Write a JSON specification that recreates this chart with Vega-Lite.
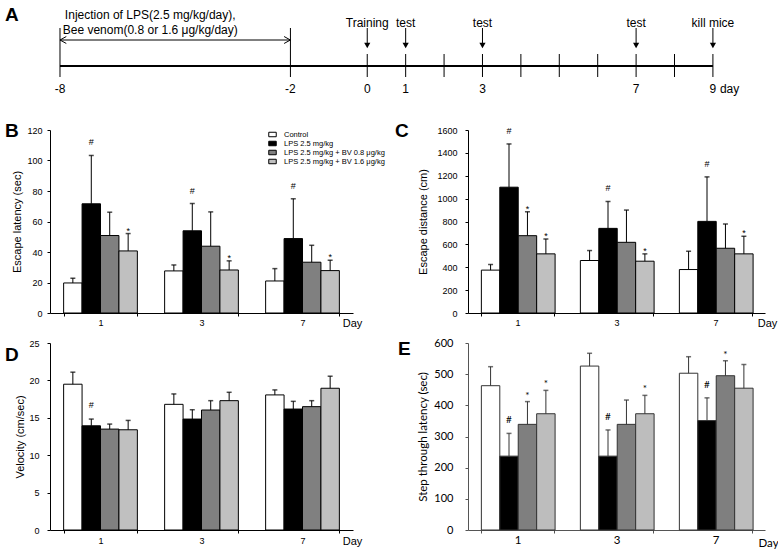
{
  "$schema": "https://vega.github.io/schema/vega-lite/v6.json",
  "autosize": {"type": "none"},
  "padding": {"left": 50, "top": 0, "right": 728, "bottom": 552},
  "background": "white",
  "config": {
    "view": {"stroke": null},
    "font": "Liberation Sans",
    "axis": {"domainColor": "black", "tickColor": "black", "labelColor": "black", "titleColor": "black", "grid": false, "labelFont": "Liberation Sans", "titleFont": "Liberation Sans", "titleFontWeight": "normal", "labelFontSize": 9, "titleFontSize": 11, "tickSize": 3, "domainWidth": 1, "tickWidth": 1, "labelOverlap": false},
    "text": {"color": "black"}
  },
  "datasets": {
    "tl_line": [{"day": -8, "day2": 9}],
    "tl_inject": [{"day": -8, "day2": -2}],
    "tl_ticks": [
      {"day": -8, "kind": "long"}, {"day": -2, "kind": "long"},
      {"day": 0, "kind": "short"}, {"day": 1, "kind": "short"}, {"day": 2, "kind": "short"}, {"day": 3, "kind": "short"}, {"day": 4, "kind": "short"},
      {"day": 5, "kind": "short"}, {"day": 6, "kind": "short"}, {"day": 7, "kind": "short"}, {"day": 8, "kind": "short"}, {"day": 9, "kind": "short"}
    ],
    "tl_labels": [
      {"day": -8, "label": "-8"}, {"day": -2, "label": "-2"}, {"day": 0, "label": "0"}, {"day": 1, "label": "1"},
      {"day": 3, "label": "3"}, {"day": 7, "label": "7"}, {"day": 9, "label": "9"}
    ],
    "tl_events": [
      {"day": 0, "event": "Training"}, {"day": 1, "event": "test"}, {"day": 3, "event": "test"}, {"day": 7, "event": "test"}, {"day": 9, "event": "kill mice"}
    ],
    "tl_text": [
      {"line": 1, "note": "Injection of LPS(2.5 mg/kg/day),"},
      {"line": 2, "note": "Bee venom(0.8  or 1.6 μg/kg/day)"}
    ],
    "latency": [
      {"day": "1", "group": "Control", "mean": 19.7, "upper": 22.8, "sig": ""},
      {"day": "1", "group": "LPS 2.5 mg/kg", "mean": 71.6, "upper": 103.3, "sig": "#"},
      {"day": "1", "group": "LPS 2.5 mg/kg + BV 0.8 μg/kg", "mean": 50.8, "upper": 66.1, "sig": ""},
      {"day": "1", "group": "LPS 2.5 mg/kg + BV 1.6 μg/kg", "mean": 40.7, "upper": 52.1, "sig": "*"},
      {"day": "3", "group": "Control", "mean": 27.6, "upper": 31.5, "sig": ""},
      {"day": "3", "group": "LPS 2.5 mg/kg", "mean": 53.9, "upper": 71.8, "sig": "#"},
      {"day": "3", "group": "LPS 2.5 mg/kg + BV 0.8 μg/kg", "mean": 43.8, "upper": 66.3, "sig": ""},
      {"day": "3", "group": "LPS 2.5 mg/kg + BV 1.6 μg/kg", "mean": 28.2, "upper": 34.2, "sig": "*"},
      {"day": "7", "group": "Control", "mean": 21.0, "upper": 29.1, "sig": ""},
      {"day": "7", "group": "LPS 2.5 mg/kg", "mean": 48.8, "upper": 74.9, "sig": "#"},
      {"day": "7", "group": "LPS 2.5 mg/kg + BV 0.8 μg/kg", "mean": 33.3, "upper": 44.4, "sig": ""},
      {"day": "7", "group": "LPS 2.5 mg/kg + BV 1.6 μg/kg", "mean": 27.8, "upper": 34.6, "sig": "*"}
    ],
    "distance": [
      {"day": "1", "group": "Control", "mean": 375, "upper": 424, "sig": ""},
      {"day": "1", "group": "LPS 2.5 mg/kg", "mean": 1100, "upper": 1478, "sig": "#"},
      {"day": "1", "group": "LPS 2.5 mg/kg + BV 0.8 μg/kg", "mean": 676, "upper": 885, "sig": "*"},
      {"day": "1", "group": "LPS 2.5 mg/kg + BV 1.6 μg/kg", "mean": 517, "upper": 647, "sig": "*"},
      {"day": "3", "group": "Control", "mean": 459, "upper": 546, "sig": ""},
      {"day": "3", "group": "LPS 2.5 mg/kg", "mean": 740, "upper": 975, "sig": "#"},
      {"day": "3", "group": "LPS 2.5 mg/kg + BV 0.8 μg/kg", "mean": 618, "upper": 900, "sig": ""},
      {"day": "3", "group": "LPS 2.5 mg/kg + BV 1.6 μg/kg", "mean": 453, "upper": 517, "sig": "*"},
      {"day": "7", "group": "Control", "mean": 380, "upper": 540, "sig": ""},
      {"day": "7", "group": "LPS 2.5 mg/kg", "mean": 801, "upper": 1190, "sig": "#"},
      {"day": "7", "group": "LPS 2.5 mg/kg + BV 0.8 μg/kg", "mean": 566, "upper": 778, "sig": ""},
      {"day": "7", "group": "LPS 2.5 mg/kg + BV 1.6 μg/kg", "mean": 517, "upper": 671, "sig": "*"}
    ],
    "velocity": [
      {"day": "1", "group": "Control", "mean": 19.49, "upper": 21.1, "sig": ""},
      {"day": "1", "group": "LPS 2.5 mg/kg", "mean": 13.93, "upper": 14.83, "sig": "#"},
      {"day": "1", "group": "LPS 2.5 mg/kg + BV 0.8 μg/kg", "mean": 13.49, "upper": 14.16, "sig": ""},
      {"day": "1", "group": "LPS 2.5 mg/kg + BV 1.6 μg/kg", "mean": 13.4, "upper": 14.65, "sig": ""},
      {"day": "3", "group": "Control", "mean": 16.8, "upper": 18.19, "sig": ""},
      {"day": "3", "group": "LPS 2.5 mg/kg", "mean": 14.83, "upper": 16.08, "sig": ""},
      {"day": "3", "group": "LPS 2.5 mg/kg + BV 0.8 μg/kg", "mean": 16.04, "upper": 17.29, "sig": ""},
      {"day": "3", "group": "LPS 2.5 mg/kg + BV 1.6 μg/kg", "mean": 17.29, "upper": 18.41, "sig": ""},
      {"day": "7", "group": "Control", "mean": 18.06, "upper": 18.73, "sig": ""},
      {"day": "7", "group": "LPS 2.5 mg/kg", "mean": 16.17, "upper": 17.2, "sig": ""},
      {"day": "7", "group": "LPS 2.5 mg/kg + BV 0.8 μg/kg", "mean": 16.49, "upper": 17.29, "sig": ""},
      {"day": "7", "group": "LPS 2.5 mg/kg + BV 1.6 μg/kg", "mean": 18.95, "upper": 20.56, "sig": ""}
    ],
    "steplatency": [
      {"day": "1", "group": "Control", "mean": 463, "upper": 524, "sig": ""},
      {"day": "1", "group": "LPS 2.5 mg/kg", "mean": 237, "upper": 310, "sig": "#"},
      {"day": "1", "group": "LPS 2.5 mg/kg + BV 0.8 μg/kg", "mean": 339, "upper": 412, "sig": "*"},
      {"day": "1", "group": "LPS 2.5 mg/kg + BV 1.6 μg/kg", "mean": 373, "upper": 448, "sig": "*"},
      {"day": "3", "group": "Control", "mean": 526, "upper": 567, "sig": ""},
      {"day": "3", "group": "LPS 2.5 mg/kg", "mean": 237, "upper": 321, "sig": "#"},
      {"day": "3", "group": "LPS 2.5 mg/kg + BV 0.8 μg/kg", "mean": 339, "upper": 417, "sig": ""},
      {"day": "3", "group": "LPS 2.5 mg/kg + BV 1.6 μg/kg", "mean": 373, "upper": 432, "sig": "*"},
      {"day": "7", "group": "Control", "mean": 503, "upper": 556, "sig": ""},
      {"day": "7", "group": "LPS 2.5 mg/kg", "mean": 351, "upper": 424, "sig": "#"},
      {"day": "7", "group": "LPS 2.5 mg/kg + BV 0.8 μg/kg", "mean": 495, "upper": 543, "sig": "*"},
      {"day": "7", "group": "LPS 2.5 mg/kg + BV 1.6 μg/kg", "mean": 455, "upper": 531, "sig": ""}
    ],
    "empty": []
  },
  "bounds": "flush",
  "align": "none",
  "columns": 2,
  "spacing": {"row": 30, "column": 115},
  "resolve": {"scale": {"fill": "independent"}, "legend": {"fill": "independent"}},
  "concat": [
    {
      "width": 303,
      "height": 100,
      "title": {"text": "A", "anchor": "start", "frame": "group", "orient": "top", "offset": 0, "dx": -45, "dy": 40, "baseline": "alphabetic", "fontSize": 19, "fontWeight": "bold", "font": "Liberation Sans", "color": "black"},
      "layer": [
        {"data": {"name": "tl_line"}, "mark": {"type": "rule", "strokeWidth": 2, "color": "black"},
         "encoding": {"x": {"field": "day", "type": "quantitative", "scale": {"domain": [-8.26, -0.371], "nice": false, "zero": false}, "axis": null}, "x2": {"field": "day2"}, "y": {"datum": 34, "type": "quantitative", "scale": {"domain": [0, 100], "nice": false, "zero": false}, "axis": null}}},
        {"data": {"name": "tl_ticks"}, "transform": [{"filter": "datum.kind === 'long'"}], "mark": {"type": "rule", "strokeWidth": 1, "color": "black"},
         "encoding": {"x": {"field": "day", "type": "quantitative", "scale": {"domain": [-8.26, -0.371], "nice": false, "zero": false}, "axis": null}, "y": {"datum": 23, "type": "quantitative", "scale": {"domain": [0, 100], "nice": false, "zero": false}, "axis": null}, "y2": {"datum": 72}}},
        {"data": {"name": "tl_ticks"}, "transform": [{"filter": "datum.kind === 'short'"}], "mark": {"type": "rule", "strokeWidth": 1, "color": "black"},
         "encoding": {"x": {"field": "day", "type": "quantitative", "scale": {"domain": [-8.26, -0.371], "nice": false, "zero": false}, "axis": null}, "y": {"datum": 23, "type": "quantitative", "scale": {"domain": [0, 100], "nice": false, "zero": false}, "axis": null}, "y2": {"datum": 46}}},
        {"data": {"name": "tl_inject"}, "mark": {"type": "rule", "strokeWidth": 1, "color": "black"},
         "encoding": {"x": {"field": "day", "type": "quantitative", "scale": {"domain": [-8.26, -0.371], "nice": false, "zero": false}, "axis": null}, "x2": {"field": "day2"}, "y": {"datum": 60, "type": "quantitative", "scale": {"domain": [0, 100], "nice": false, "zero": false}, "axis": null}}},
        {"data": {"name": "tl_inject"}, "mark": {"type": "point", "shape": "M1,-0.55L0,0L1,0.55", "size": 160, "filled": false, "stroke": "black", "strokeWidth": 1, "opacity": 1},
         "encoding": {"x": {"field": "day", "type": "quantitative", "scale": {"domain": [-8.26, -0.371], "nice": false, "zero": false}, "axis": null}, "y": {"datum": 60, "type": "quantitative", "scale": {"domain": [0, 100], "nice": false, "zero": false}, "axis": null}}},
        {"data": {"name": "tl_inject"}, "mark": {"type": "point", "shape": "M-1,-0.55L0,0L-1,0.55", "size": 160, "filled": false, "stroke": "black", "strokeWidth": 1, "opacity": 1},
         "encoding": {"x": {"field": "day2", "type": "quantitative", "scale": {"domain": [-8.26, -0.371], "nice": false, "zero": false}, "axis": null}, "y": {"datum": 60, "type": "quantitative", "scale": {"domain": [0, 100], "nice": false, "zero": false}, "axis": null}}},
        {"data": {"name": "tl_events"}, "mark": {"type": "rule", "strokeWidth": 1, "color": "black"},
         "encoding": {"x": {"field": "day", "type": "quantitative", "scale": {"domain": [-8.26, -0.371], "nice": false, "zero": false}, "axis": null}, "y": {"datum": 56, "type": "quantitative", "scale": {"domain": [0, 100], "nice": false, "zero": false}, "axis": null}, "y2": {"datum": 72}}},
        {"data": {"name": "tl_events"}, "mark": {"type": "point", "shape": "triangle-down", "size": 38, "filled": true, "color": "black", "opacity": 1},
         "encoding": {"x": {"field": "day", "type": "quantitative", "scale": {"domain": [-8.26, -0.371], "nice": false, "zero": false}, "axis": null}, "y": {"datum": 54.5, "type": "quantitative", "scale": {"domain": [0, 100], "nice": false, "zero": false}, "axis": null}}},
        {"data": {"name": "tl_events"}, "mark": {"type": "text", "font": "Liberation Sans", "fontSize": 12, "baseline": "middle", "color": "black"},
         "encoding": {"x": {"field": "day", "type": "quantitative", "scale": {"domain": [-8.26, -0.371], "nice": false, "zero": false}, "axis": null}, "y": {"datum": 77, "type": "quantitative", "scale": {"domain": [0, 100], "nice": false, "zero": false}, "axis": null}, "text": {"field": "event"}}},
        {"data": {"name": "tl_labels"}, "mark": {"type": "text", "font": "Liberation Sans", "fontSize": 12, "baseline": "middle", "color": "black"},
         "encoding": {"x": {"field": "day", "type": "quantitative", "scale": {"domain": [-8.26, -0.371], "nice": false, "zero": false}, "axis": null}, "y": {"datum": 11, "type": "quantitative", "scale": {"domain": [0, 100], "nice": false, "zero": false}, "axis": null}, "text": {"field": "label"}}},
        {"data": {"name": "tl_labels"}, "transform": [{"filter": "datum.day === 9"}], "mark": {"type": "text", "text": "day", "align": "left", "dx": 7, "font": "Liberation Sans", "fontSize": 12, "baseline": "middle", "color": "black"},
         "encoding": {"x": {"field": "day", "type": "quantitative", "scale": {"domain": [-8.26, -0.371], "nice": false, "zero": false}, "axis": null}, "y": {"datum": 11, "type": "quantitative", "scale": {"domain": [0, 100], "nice": false, "zero": false}, "axis": null}}},
        {"data": {"name": "tl_text"}, "transform": [{"filter": "datum.line === 1"}], "mark": {"type": "text", "font": "Liberation Sans", "fontSize": 12, "baseline": "middle", "color": "black"},
         "encoding": {"x": {"datum": -5.65, "type": "quantitative", "scale": {"domain": [-8.26, -0.371], "nice": false, "zero": false}, "axis": null}, "y": {"datum": 85, "type": "quantitative", "scale": {"domain": [0, 100], "nice": false, "zero": false}, "axis": null}, "text": {"field": "note", "type": "nominal"}}},
        {"data": {"name": "tl_text"}, "transform": [{"filter": "datum.line === 2"}], "mark": {"type": "text", "font": "Liberation Sans", "fontSize": 12, "baseline": "middle", "color": "black"},
         "encoding": {"x": {"datum": -5.65, "type": "quantitative", "scale": {"domain": [-8.26, -0.371], "nice": false, "zero": false}, "axis": null}, "y": {"datum": 70, "type": "quantitative", "scale": {"domain": [0, 100], "nice": false, "zero": false}, "axis": null}, "text": {"field": "note", "type": "nominal"}}}
      ]
    },
    {
      "width": 10, "height": 100,
      "data": {"name": "empty"},
      "mark": {"type": "text"}
    },
    {
      "width": 303, "height": 183,
      "title": {"text": "B", "anchor": "start", "frame": "group", "orient": "top", "offset": 0, "dx": -45, "dy": 29.5, "baseline": "alphabetic", "fontSize": 19, "fontWeight": "bold", "font": "Liberation Sans", "color": "black"},
      "data": {"name": "latency"},
      "encoding": {
        "x": {"field": "day", "type": "nominal", "sort": ["1", "3", "7"], "scale": {"paddingInner": 0.27, "paddingOuter": 0.135},
              "axis": {"title": "Day", "titleX": 302, "titleY": 10, "titleAlign": "center", "titleBaseline": "middle", "labelAngle": 0, "tickBand": "extent", "labelPadding": 2}},
        "xOffset": {"field": "group", "type": "nominal", "sort": ["Control", "LPS 2.5 mg/kg", "LPS 2.5 mg/kg + BV 0.8 μg/kg", "LPS 2.5 mg/kg + BV 1.6 μg/kg"], "scale": {"paddingInner": 0, "paddingOuter": 0}}
      },
      "layer": [
        {"mark": {"type": "bar", "stroke": "black", "strokeWidth": 1},
         "encoding": {
           "y": {"field": "mean", "type": "quantitative", "scale": {"domain": [0, 120], "nice": false},
                 "axis": {"title": "Escape latency (sec)", "values": [0, 20, 40, 60, 80, 100, 120], "tickCount": 30, "titleX": -33, "titleY": 91.5, "titleAlign": "center", "titleBaseline": "middle", "labelPadding": 5}},
           "fill": {"field": "group", "type": "nominal", "scale": {"domain": ["Control", "LPS 2.5 mg/kg", "LPS 2.5 mg/kg + BV 0.8 μg/kg", "LPS 2.5 mg/kg + BV 1.6 μg/kg"], "range": ["#ffffff", "#000000", "#808080", "#c0c0c0"]},
                    "legend": {"orient": "none", "legendX": 218, "legendY": 0, "title": null, "padding": 0, "rowPadding": 0, "labelFontSize": 7.5, "labelFont": "Liberation Sans", "labelColor": "black", "labelOffset": 7, "labelLimit": 300, "symbolType": "M-1,-0.6H1V0.6H-1Z", "symbolSize": 56, "symbolStrokeColor": "black", "symbolStrokeWidth": 1}}
         }},
        {"mark": {"type": "rule", "color": "black", "strokeWidth": 1},
         "encoding": {"y": {"field": "mean", "type": "quantitative"}, "y2": {"field": "upper"}}},
        {"mark": {"type": "tick", "color": "black", "size": 5, "thickness": 1.5},
         "encoding": {"y": {"field": "upper", "type": "quantitative"}}},
        {"transform": [{"filter": "datum.sig === '#'"}], "mark": {"type": "text", "dy": -13, "baseline": "middle", "fontSize": 9, "color": "black"},
         "encoding": {"y": {"field": "upper", "type": "quantitative"}, "text": {"field": "sig"}}},
        {"transform": [{"filter": "datum.sig === '*'"}], "mark": {"type": "text", "dy": -3, "baseline": "middle", "fontSize": 9, "color": "black"},
         "encoding": {"y": {"field": "upper", "type": "quantitative"}, "text": {"field": "sig"}}}
      ]
    },
    {
      "width": 297, "height": 183,
      "title": {"text": "C", "anchor": "start", "frame": "group", "orient": "top", "offset": 0, "dx": -73, "dy": 29.5, "baseline": "alphabetic", "fontSize": 19, "fontWeight": "bold", "font": "Liberation Sans", "color": "black"},
      "data": {"name": "distance"},
      "encoding": {
        "x": {"field": "day", "type": "nominal", "sort": ["1", "3", "7"], "scale": {"paddingInner": 0.27, "paddingOuter": 0.135},
              "axis": {"title": "Day", "titleX": 299, "titleY": 10, "titleAlign": "center", "titleBaseline": "middle", "labelAngle": 0, "tickBand": "extent", "labelPadding": 2}},
        "xOffset": {"field": "group", "type": "nominal", "sort": ["Control", "LPS 2.5 mg/kg", "LPS 2.5 mg/kg + BV 0.8 μg/kg", "LPS 2.5 mg/kg + BV 1.6 μg/kg"], "scale": {"paddingInner": 0, "paddingOuter": 0}}
      },
      "layer": [
        {"mark": {"type": "bar", "stroke": "black", "strokeWidth": 1},
         "encoding": {
           "y": {"field": "mean", "type": "quantitative", "scale": {"domain": [0, 1600], "nice": false},
                 "axis": {"title": "Escape distance (cm)", "format": "d", "values": [0, 200, 400, 600, 800, 1000, 1200, 1400, 1600], "tickCount": 30, "titleX": -45, "titleY": 91.5, "titleAlign": "center", "titleBaseline": "middle", "labelPadding": 8}},
           "fill": {"field": "group", "type": "nominal", "scale": {"domain": ["Control", "LPS 2.5 mg/kg", "LPS 2.5 mg/kg + BV 0.8 μg/kg", "LPS 2.5 mg/kg + BV 1.6 μg/kg"], "range": ["#ffffff", "#000000", "#808080", "#c0c0c0"]}, "legend": null}
         }},
        {"mark": {"type": "rule", "color": "black", "strokeWidth": 1},
         "encoding": {"y": {"field": "mean", "type": "quantitative"}, "y2": {"field": "upper"}}},
        {"mark": {"type": "tick", "color": "black", "size": 5, "thickness": 1.5},
         "encoding": {"y": {"field": "upper", "type": "quantitative"}}},
        {"transform": [{"filter": "datum.sig === '#'"}], "mark": {"type": "text", "dy": -13, "baseline": "middle", "fontSize": 9, "color": "black"},
         "encoding": {"y": {"field": "upper", "type": "quantitative"}, "text": {"field": "sig"}}},
        {"transform": [{"filter": "datum.sig === '*'"}], "mark": {"type": "text", "dy": -3, "baseline": "middle", "fontSize": 9, "color": "black"},
         "encoding": {"y": {"field": "upper", "type": "quantitative"}, "text": {"field": "sig"}}}
      ]
    },
    {
      "width": 303, "height": 187,
      "title": {"text": "D", "anchor": "start", "frame": "group", "orient": "top", "offset": 0, "dx": -45, "dy": 40.5, "baseline": "alphabetic", "fontSize": 19, "fontWeight": "bold", "font": "Liberation Sans", "color": "black"},
      "data": {"name": "velocity"},
      "encoding": {
        "x": {"field": "day", "type": "nominal", "sort": ["1", "3", "7"], "scale": {"paddingInner": 0.27, "paddingOuter": 0.135},
              "axis": {"title": "Day", "titleX": 302, "titleY": 11, "titleAlign": "center", "titleBaseline": "middle", "labelAngle": 0, "tickBand": "extent", "labelPadding": 3}},
        "xOffset": {"field": "group", "type": "nominal", "sort": ["Control", "LPS 2.5 mg/kg", "LPS 2.5 mg/kg + BV 0.8 μg/kg", "LPS 2.5 mg/kg + BV 1.6 μg/kg"], "scale": {"paddingInner": 0, "paddingOuter": 0}}
      },
      "layer": [
        {"mark": {"type": "bar", "stroke": "black", "strokeWidth": 1},
         "encoding": {
           "y": {"field": "mean", "type": "quantitative", "scale": {"domain": [0, 25], "nice": false},
                 "axis": {"title": "Velocity (cm/sec)", "values": [0, 5, 10, 15, 20, 25], "tickCount": 30, "titleX": -30, "titleY": 93.5, "titleAlign": "center", "titleBaseline": "middle", "labelPadding": 8}},
           "fill": {"field": "group", "type": "nominal", "scale": {"domain": ["Control", "LPS 2.5 mg/kg", "LPS 2.5 mg/kg + BV 0.8 μg/kg", "LPS 2.5 mg/kg + BV 1.6 μg/kg"], "range": ["#ffffff", "#000000", "#808080", "#c0c0c0"]}, "legend": null}
         }},
        {"mark": {"type": "rule", "color": "black", "strokeWidth": 1},
         "encoding": {"y": {"field": "mean", "type": "quantitative"}, "y2": {"field": "upper"}}},
        {"mark": {"type": "tick", "color": "black", "size": 5, "thickness": 1.5},
         "encoding": {"y": {"field": "upper", "type": "quantitative"}}},
        {"transform": [{"filter": "datum.sig === '#'"}], "mark": {"type": "text", "dy": -14, "baseline": "middle", "fontSize": 9, "color": "black"},
         "encoding": {"y": {"field": "upper", "type": "quantitative"}, "text": {"field": "sig"}}}
      ]
    },
    {
      "width": 297, "height": 187,
      "title": {"text": "E", "anchor": "start", "frame": "group", "orient": "top", "offset": 0, "dx": -70, "dy": 36.5, "baseline": "alphabetic", "fontSize": 19, "fontWeight": "bold", "font": "Liberation Sans", "color": "black"},
      "data": {"name": "steplatency"},
      "encoding": {
        "x": {"field": "day", "type": "nominal", "sort": ["1", "3", "7"], "scale": {"paddingInner": 0.27, "paddingOuter": 0.135},
              "axis": {"title": "Day", "titleX": 300, "titleY": 13, "titleAlign": "center", "titleBaseline": "middle", "labelAngle": 0, "tickBand": "extent", "labelPadding": 1, "labelFont": "Lato", "titleFont": "Lato", "labelFontSize": 11.5, "titleFontSize": 11.5, "domainColor": "#555555", "tickColor": "#555555"}},
        "xOffset": {"field": "group", "type": "nominal", "sort": ["Control", "LPS 2.5 mg/kg", "LPS 2.5 mg/kg + BV 0.8 μg/kg", "LPS 2.5 mg/kg + BV 1.6 μg/kg"], "scale": {"paddingInner": 0, "paddingOuter": 0}}
      },
      "layer": [
        {"mark": {"type": "bar", "stroke": "#333333", "strokeWidth": 1},
         "encoding": {
           "y": {"field": "mean", "type": "quantitative", "scale": {"domain": [0, 600], "nice": false},
                 "axis": {"title": "Step through latency (sec)", "values": [0, 100, 200, 300, 400, 500, 600], "tickCount": 30, "titleX": -45, "titleY": 93.5, "titleAlign": "center", "titleBaseline": "middle", "labelPadding": 12, "labelFont": "Lato", "titleFont": "Lato", "labelFontSize": 11, "titleFontSize": 11.5, "domainColor": "#555555", "tickColor": "#555555"}},
           "fill": {"field": "group", "type": "nominal", "scale": {"domain": ["Control", "LPS 2.5 mg/kg", "LPS 2.5 mg/kg + BV 0.8 μg/kg", "LPS 2.5 mg/kg + BV 1.6 μg/kg"], "range": ["#ffffff", "#000000", "#7f7f7f", "#bdbdbd"]}, "legend": null}
         }},
        {"mark": {"type": "rule", "color": "#333333", "strokeWidth": 1},
         "encoding": {"y": {"field": "mean", "type": "quantitative"}, "y2": {"field": "upper"}}},
        {"mark": {"type": "tick", "color": "#333333", "size": 5, "thickness": 1.5},
         "encoding": {"y": {"field": "upper", "type": "quantitative"}}},
        {"transform": [{"filter": "datum.sig === '#'"}], "mark": {"type": "text", "dy": -13, "baseline": "middle", "fontSize": 10, "font": "Lato", "color": "black"},
         "encoding": {"y": {"field": "upper", "type": "quantitative"}, "text": {"field": "sig"}}},
        {"transform": [{"filter": "datum.sig === '*'"}], "mark": {"type": "text", "dy": -6, "baseline": "middle", "fontSize": 10, "font": "Lato", "color": "black"},
         "encoding": {"y": {"field": "upper", "type": "quantitative"}, "text": {"field": "sig"}}}
      ]
    }
  ]
}
